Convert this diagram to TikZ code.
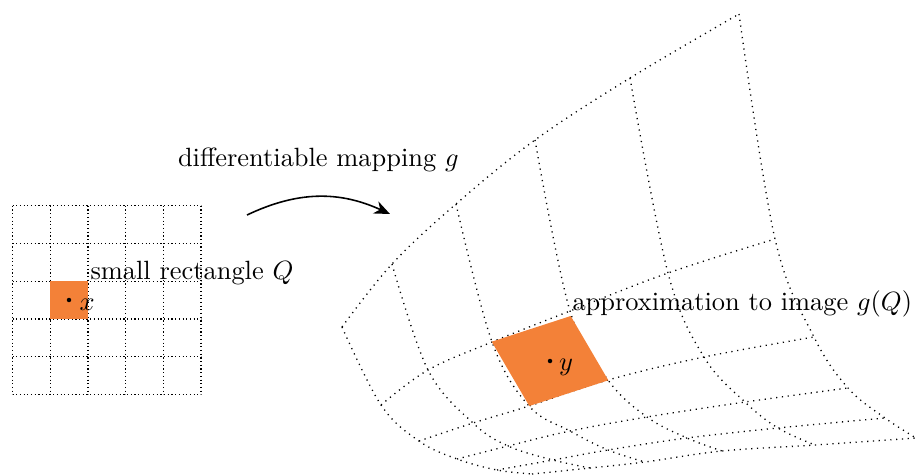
\documentclass[tikz,border=0pt]{standalone}
\usetikzlibrary{arrows.meta}
\definecolor{qorange}{RGB}{243,129,56}
\tikzset{
  lgrid/.style={line width=0.5pt, dash pattern=on 0.45pt off 0.95pt},
  rgrid/.style={line width=0.5pt, dash pattern=on 0.45pt off 1.75pt},
  lbl/.style={anchor=base west, inner sep=0pt, outer sep=0pt},
  mapping arrow/.style={semithick, -{Stealth[length=6pt,width=5pt]}}
}
\begin{document}
\begin{tikzpicture}[x=0.3788pt, y=-0.3788pt]
\useasboundingbox (0,0) rectangle (917,474);

% ---------- left grid ----------
\foreach \k in {0,...,5} {
  \draw[lgrid] ({12.5+37.7*\k},205.8) -- ({12.5+37.7*\k},394.3);
  \draw[lgrid] (12.5,{205.8+37.7*\k}) -- (201,{205.8+37.7*\k});
}
\fill[qorange] (50.2,281.2) rectangle (87.9,318.9);
\fill (69,300) circle (0.85pt);
\node[lbl] (lx) at (79.5,310) {$x$};
\node[lbl] (lq) at (90.5,279.5) {small rectangle $Q$};

% ---------- mapping arrow ----------
\node[lbl] (lg) at (178,166) {differentiable mapping $g$};
\coordinate (as) at (247,215);
\coordinate (ae) at (390,214);
\draw[mapping arrow] (as) to[bend left=25] (ae);

% ---------- right (mapped) grid vertices p<s><t> ----------
\coordinate (p00) at (342,327); \coordinate (p10) at (392,264); \coordinate (p20) at (456,204);
\coordinate (p30) at (535,140); \coordinate (p40) at (630,78);  \coordinate (p50) at (739,14);
\coordinate (p01) at (381,405); \coordinate (p11) at (428,370); \coordinate (p21) at (492,342);
\coordinate (p31) at (570,311); \coordinate (p41) at (668,273); \coordinate (p51) at (775,239);
\coordinate (p02) at (419,441); \coordinate (p12) at (473,423); \coordinate (p22) at (529,406);
\coordinate (p32) at (608,380); \coordinate (p42) at (704,357); \coordinate (p52) at (814,337);
\coordinate (p03) at (457,459); \coordinate (p13) at (508,446); \coordinate (p23) at (570,431);
\coordinate (p33) at (647,417); \coordinate (p43) at (745,402); \coordinate (p53) at (848,388);
\coordinate (p04) at (497,470); \coordinate (p14) at (553,460); \coordinate (p24) at (608,450);
\coordinate (p34) at (687,438); \coordinate (p44) at (778,428); \coordinate (p54) at (885,418);
\coordinate (p05) at (532,474); \coordinate (p15) at (590,468); \coordinate (p25) at (645,462);
\coordinate (p35) at (722,451); \coordinate (p45) at (815,445); \coordinate (p55) at (916,438);

\foreach \t in {0,...,5} {
  \draw[rgrid] plot[smooth, tension=0.6] coordinates {(p0\t) (p1\t) (p2\t) (p3\t) (p4\t) (p5\t)};
}
\foreach \s in {0,...,5} {
  \draw[rgrid] plot[smooth, tension=0.6] coordinates {(p\s0) (p\s1) (p\s2) (p\s3) (p\s4) (p\s5)};
}

% ---------- tangent approximation ----------
\fill[qorange] (491.7,341.7) -- (570.7,316) -- (608.3,380.3) -- (529.3,406) -- cycle;
\fill (550,361) circle (0.85pt);
\node[lbl] (ly) at (559,370) {$y$};
\node[lbl] (la) at (572.5,310) {approximation to image $g(Q)$};
\end{tikzpicture}
\end{document}
